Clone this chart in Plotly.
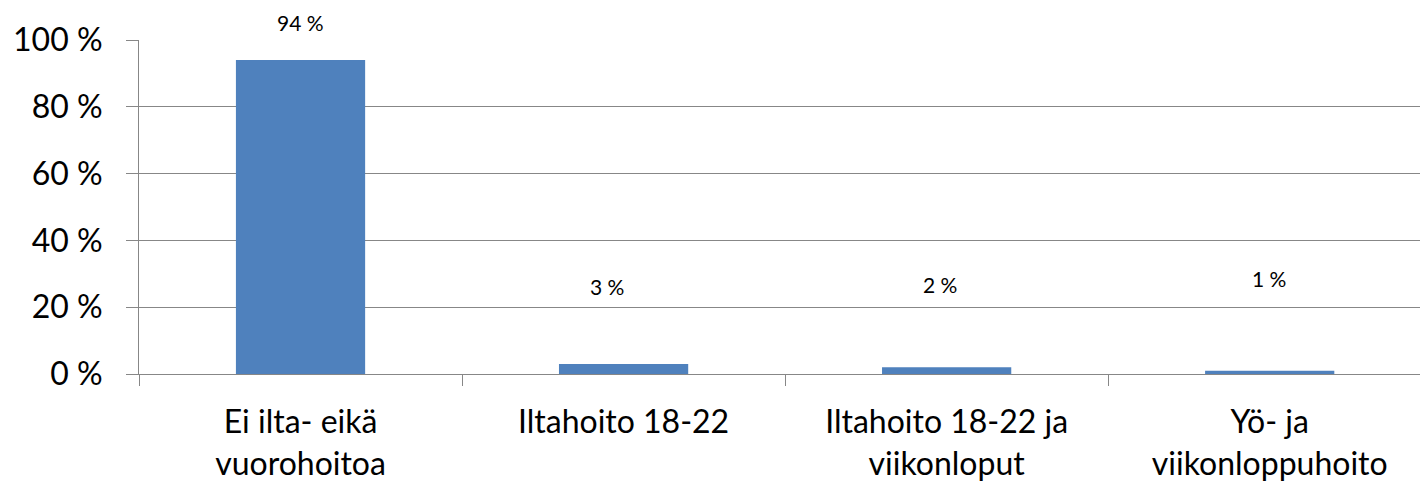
import plotly.graph_objects as go

categories = ["Ei ilta- eikä<br>vuorohoitoa", "Iltahoito 18-22", "Iltahoito 18-22 ja<br>viikonloput", "Yö- ja<br>viikonloppuhoito"]
values = [94, 3, 2, 1]
value_labels = ["94 %", "3 %", "2 %", "1 %"]
tick_vals = [0, 20, 40, 60, 80, 100]
tick_text = ["0 %", "20 %", "40 %", "60 %", "80 %", "100 %"]

# label placement offsets (pixels), as in the original manual positioning
label_yshift = [38, 77, 83, 92]
label_xshift = [0, -17, -7, -1]

FONT = "Lato"
GRID = "#878787"

fig = go.Figure(go.Bar(
    x=categories, y=values,
    marker=dict(color="#4F81BD", line=dict(width=0)),
    width=0.4,
))

for i, (c, v, t) in enumerate(zip(categories, values, value_labels)):
    fig.add_annotation(x=c, y=v, text=t, showarrow=False, yref="y", xref="x",
                       yshift=label_yshift[i], xshift=label_xshift[i],
                       font=dict(family=FONT, size=21, color="#000"))

fig.update_layout(
    width=1420, height=477,
    margin=dict(l=131, r=0, t=32, b=111),
    plot_bgcolor="white", paper_bgcolor="white",
    showlegend=False, bargap=0.6,
    font=dict(family=FONT, color="#000"),
)
fig.update_xaxes(
    type="category", range=[-0.5, 3.49], tickson="boundaries",
    ticks="outside", ticklen=11, tickcolor=GRID, tickwidth=1,
    showline=True, linecolor=GRID, linewidth=1,
    showgrid=False, zeroline=False, ticklabelstandoff=20,
    tickfont=dict(family=FONT, size=32, color="#000"),
)
fig.update_yaxes(
    range=[0, 100], tickvals=tick_vals, ticktext=tick_text,
    ticks="outside", ticklen=12, tickcolor=GRID, tickwidth=1,
    showline=True, linecolor=GRID, linewidth=1,
    showgrid=True, gridcolor=GRID, gridwidth=1, zeroline=False,
    ticklabelstandoff=17,
    tickfont=dict(family=FONT, size=32, color="#000"),
)
fig.write_html("out.html")
